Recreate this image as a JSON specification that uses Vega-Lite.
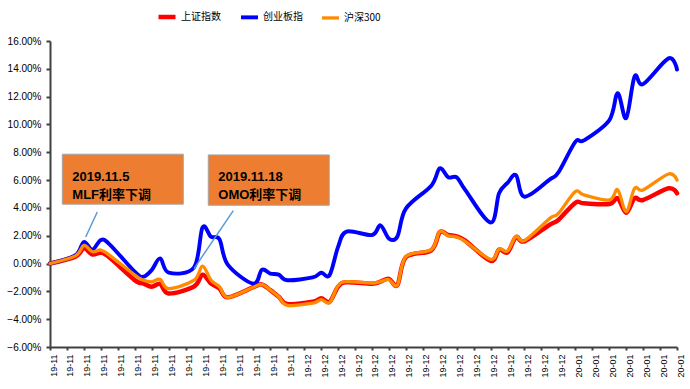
{
  "$schema": "https://vega.github.io/schema/vega-lite/v6.json",
  "width": 627,
  "height": 306,
  "autosize": {"type": "none"},
  "padding": {"left": 50, "top": 41, "right": 13, "bottom": 42},
  "background": "#ffffff",
  "config": {
    "view": {"stroke": null},
    "axis": {"grid": false, "domainColor": "#404040", "domainWidth": 2, "tickColor": "#404040", "tickWidth": 2, "labelColor": "#000000", "labelFont": "Liberation Sans", "title": null}
  },
  "datasets": {
    "idx": [
      {"date": "2019-11-01", "上证指数": 0, "创业板指": 0, "沪深300": 0},
      {"date": "2019-11-04", "上证指数": 0.5, "创业板指": 0.6, "沪深300": 0.55},
      {"date": "2019-11-05", "上证指数": 1.1, "创业板指": 1.55, "沪深300": 1.3},
      {"date": "2019-11-06", "上证指数": 0.65, "创业板指": 1.0, "沪深300": 0.85},
      {"date": "2019-11-07", "上证指数": 0.78, "创业板指": 1.69, "沪深300": 0.97},
      {"date": "2019-11-08", "上证指数": 0.45, "创业板指": 1.4, "沪深300": 0.61},
      {"date": "2019-11-11", "上证指数": -1.19, "创业板指": -0.59, "沪深300": -0.83},
      {"date": "2019-11-12", "上证指数": -1.43, "创业板指": -0.95, "沪深300": -1.19},
      {"date": "2019-11-13", "上证指数": -1.67, "创业板指": -0.47, "沪深300": -1.31},
      {"date": "2019-11-14", "上证指数": -1.47, "创业板指": 0.37, "沪深300": -1.14},
      {"date": "2019-11-15", "上证指数": -2.15, "创业板指": -0.65, "沪深300": -1.8},
      {"date": "2019-11-18", "上证指数": -1.65, "创业板指": -0.27, "沪深300": -1.2},
      {"date": "2019-11-19", "上证指数": -0.8, "创业板指": 2.6, "沪深300": -0.18},
      {"date": "2019-11-20", "上证指数": -1.43, "创业板指": 1.93, "沪深300": -1.19},
      {"date": "2019-11-21", "上证指数": -1.79, "创业板指": 1.74, "沪深300": -1.67},
      {"date": "2019-11-22", "上证指数": -2.43, "创业板指": -0.1, "沪深300": -2.43},
      {"date": "2019-11-25", "上证指数": -1.7, "创业板指": -1.45, "沪深300": -1.7},
      {"date": "2019-11-26", "上证指数": -1.5, "创业板指": -0.45, "沪深300": -1.5},
      {"date": "2019-11-27", "上证指数": -1.91, "创业板指": -0.72, "沪深300": -1.9},
      {"date": "2019-11-28", "上证指数": -2.39, "创业板指": -0.8, "沪深300": -2.39},
      {"date": "2019-11-29", "上证指数": -2.9, "创业板指": -1.2, "沪深300": -3.0},
      {"date": "2019-12-02", "上证指数": -2.75, "创业板指": -1.0, "沪深300": -2.85},
      {"date": "2019-12-03", "上证指数": -2.5, "创业板指": -0.66, "沪深300": -2.6},
      {"date": "2019-12-04", "上证指数": -2.75, "创业板指": -0.83, "沪深300": -2.8},
      {"date": "2019-12-05", "上证指数": -1.67, "创业板指": 1.2, "沪深300": -1.6},
      {"date": "2019-12-06", "上证指数": -1.35, "创业板指": 2.3, "沪深300": -1.3},
      {"date": "2019-12-09", "上证指数": -1.45, "创业板指": 2.05, "沪深300": -1.4},
      {"date": "2019-12-10", "上证指数": -1.3, "创业板指": 2.75, "沪深300": -1.3},
      {"date": "2019-12-11", "上证指数": -1.1, "创业板指": 1.8, "沪深300": -1.15},
      {"date": "2019-12-12", "上证指数": -1.55, "创业板指": 1.95, "沪深300": -1.55},
      {"date": "2019-12-13", "上证指数": 0.45, "创业板指": 3.95, "沪深300": 0.5},
      {"date": "2019-12-16", "上证指数": 0.95, "创业板指": 5.6, "沪深300": 1.0},
      {"date": "2019-12-17", "上证指数": 2.25, "创业板指": 6.85, "沪深300": 2.3},
      {"date": "2019-12-18", "上证指数": 2.05, "创业板指": 6.2, "沪深300": 2.0},
      {"date": "2019-12-19", "上证指数": 1.95, "创业板指": 6.2, "沪深300": 1.9},
      {"date": "2019-12-20", "上证指数": 1.65, "创业板指": 5.3, "沪深300": 1.6},
      {"date": "2019-12-23", "上证指数": 0.2, "创业板指": 2.95, "沪深300": 0.3},
      {"date": "2019-12-24", "上证指数": 1.0, "创业板指": 5.05, "沪深300": 1.05},
      {"date": "2019-12-25", "上证指数": 0.8, "创业板指": 5.8, "沪深300": 0.9},
      {"date": "2019-12-26", "上证指数": 1.9, "创业板指": 6.35, "沪深300": 1.95},
      {"date": "2019-12-27", "上证指数": 1.6, "创业板指": 4.8, "沪深300": 1.65},
      {"date": "2019-12-30", "上证指数": 2.8, "创业板指": 6.05, "沪深300": 3.25},
      {"date": "2019-12-31", "上证指数": 3.13, "创业板指": 6.55, "沪深300": 3.6},
      {"date": "2020-01-02", "上证指数": 4.37, "创业板指": 8.75, "沪深300": 5.17},
      {"date": "2020-01-03", "上证指数": 4.33, "创业板指": 8.85, "沪深300": 4.93},
      {"date": "2020-01-06", "上证指数": 4.28, "创业板指": 10.3, "沪深300": 4.57},
      {"date": "2020-01-07", "上证指数": 4.7, "创业板指": 12.25, "沪深300": 5.3},
      {"date": "2020-01-08", "上证指数": 3.66, "创业板指": 10.45, "沪深300": 3.73},
      {"date": "2020-01-09", "上证指数": 4.69, "创业板指": 13.45, "沪深300": 5.41},
      {"date": "2020-01-10", "上证指数": 4.57, "创业板指": 12.9, "沪深300": 5.29},
      {"date": "2020-01-13", "上证指数": 5.41, "创业板指": 14.75, "沪深300": 6.44},
      {"date": "2020-01-14", "上证指数": 5.05, "创业板指": 13.95, "沪深300": 6.0}
    ],
    "notes": [
      {"label": "2019.11.5\nMLF利率下调", "boxStart": "2019-11-02T10:50:00Z", "boxEnd": "2019-11-16T17:35:00Z", "boxTop": 7.86, "boxBottom": 4.27, "textAt": "2019-11-03T15:10:00Z", "textLevel": 6.22, "pointerFrom": "2019-11-06T13:55:00Z", "pointerFromLevel": 3.71, "pointerTo": "2019-11-05T05:05:00Z", "pointerToLevel": 1.91},
      {"label": "2019.11.18\nOMO利率下调", "boxStart": "2019-11-19T16:20:00Z", "boxEnd": "2019-12-03T23:05:00Z", "boxTop": 7.81, "boxBottom": 4.19, "textAt": "2019-11-20T20:40:00Z", "textLevel": 6.22, "pointerFrom": "2019-11-22T15:10:00Z", "pointerFromLevel": 3.81, "pointerTo": "2019-11-18T00:00:00Z", "pointerToLevel": -0.36}
    ]
  },
  "layer": [
    {
      "data": {"name": "idx"},
      "transform": [{"fold": ["上证指数", "创业板指", "沪深300"], "as": ["series", "value"]}],
      "mark": {"type": "line", "interpolate": "cardinal", "strokeCap": "round", "strokeJoin": "round"},
      "encoding": {
        "x": {
          "field": "date", "type": "temporal",
          "scale": {"type": "utc", "domain": [{"year": 2019, "month": 11, "date": 1, "utc": true}, {"year": 2020, "month": 1, "date": 14, "utc": true}], "nice": false},
          "axis": {
            "title": null, "format": "%y-%m", "labelAngle": -90, "labelFontSize": 9, "tickSize": 3, "labelPadding": 4, "labelOverlap": false, "labelOffset": 3, "labelFlush": false, "labelBound": false, "tickCount": 100,
            "values": [
              {"year": 2019, "month": 11, "date": 1, "utc": true}, {"year": 2019, "month": 11, "date": 3, "utc": true}, {"year": 2019, "month": 11, "date": 5, "utc": true}, {"year": 2019, "month": 11, "date": 7, "utc": true}, {"year": 2019, "month": 11, "date": 9, "utc": true}, {"year": 2019, "month": 11, "date": 11, "utc": true}, {"year": 2019, "month": 11, "date": 13, "utc": true}, {"year": 2019, "month": 11, "date": 15, "utc": true}, {"year": 2019, "month": 11, "date": 17, "utc": true}, {"year": 2019, "month": 11, "date": 19, "utc": true}, {"year": 2019, "month": 11, "date": 21, "utc": true}, {"year": 2019, "month": 11, "date": 23, "utc": true}, {"year": 2019, "month": 11, "date": 25, "utc": true}, {"year": 2019, "month": 11, "date": 27, "utc": true}, {"year": 2019, "month": 11, "date": 29, "utc": true},
              {"year": 2019, "month": 12, "date": 1, "utc": true}, {"year": 2019, "month": 12, "date": 3, "utc": true}, {"year": 2019, "month": 12, "date": 5, "utc": true}, {"year": 2019, "month": 12, "date": 7, "utc": true}, {"year": 2019, "month": 12, "date": 9, "utc": true}, {"year": 2019, "month": 12, "date": 11, "utc": true}, {"year": 2019, "month": 12, "date": 13, "utc": true}, {"year": 2019, "month": 12, "date": 15, "utc": true}, {"year": 2019, "month": 12, "date": 17, "utc": true}, {"year": 2019, "month": 12, "date": 19, "utc": true}, {"year": 2019, "month": 12, "date": 21, "utc": true}, {"year": 2019, "month": 12, "date": 23, "utc": true}, {"year": 2019, "month": 12, "date": 25, "utc": true}, {"year": 2019, "month": 12, "date": 27, "utc": true}, {"year": 2019, "month": 12, "date": 29, "utc": true}, {"year": 2019, "month": 12, "date": 31, "utc": true},
              {"year": 2020, "month": 1, "date": 2, "utc": true}, {"year": 2020, "month": 1, "date": 4, "utc": true}, {"year": 2020, "month": 1, "date": 6, "utc": true}, {"year": 2020, "month": 1, "date": 8, "utc": true}, {"year": 2020, "month": 1, "date": 10, "utc": true}, {"year": 2020, "month": 1, "date": 12, "utc": true}, {"year": 2020, "month": 1, "date": 14, "utc": true}
            ]
          }
        },
        "y": {
          "field": "value", "type": "quantitative",
          "scale": {"domain": [-6, 16], "nice": false, "zero": false},
          "axis": {"title": null, "values": [-6, -4, -2, 0, 2, 4, 6, 8, 10, 12, 14, 16], "tickCount": 100, "labelOverlap": false, "labelExpr": "format(datum.value, '.2f') + '%'", "labelFontSize": 10, "tickSize": 4, "labelPadding": 5}
        },
        "color": {
          "field": "series", "type": "nominal",
          "scale": {"domain": ["上证指数", "创业板指", "沪深300"], "range": ["#FF0000", "#0000FF", "#FF8C00"]},
          "legend": {"orient": "none", "legendX": 106, "legendY": -35, "direction": "horizontal", "title": null, "symbolType": "stroke", "symbolSize": 289, "symbolStrokeWidth": 4, "labelFont": "Noto Sans CJK SC", "labelFontSize": 10, "labelColor": "#000000", "columnPadding": 12, "labelOffset": 3, "padding": 0}
        },
        "strokeWidth": {
          "field": "series", "type": "nominal",
          "scale": {"domain": ["上证指数", "创业板指", "沪深300"], "range": [4.5, 3.3, 3.5]},
          "legend": null
        }
      }
    },
    {
      "data": {"name": "notes"},
      "mark": {"type": "rect", "fill": "#ED7D31", "stroke": "#A6A6A6", "strokeWidth": 1},
      "encoding": {
        "x": {"field": "boxStart", "type": "temporal"},
        "x2": {"field": "boxEnd"},
        "y": {"field": "boxTop", "type": "quantitative"},
        "y2": {"field": "boxBottom"}
      }
    },
    {
      "data": {"name": "notes"},
      "mark": {"type": "text", "align": "left", "baseline": "middle", "lineBreak": "\n", "lineHeight": 17.5, "font": "Liberation Sans, Noto Sans CJK SC", "fontWeight": "bold", "fontSize": 13, "color": "#000000"},
      "encoding": {
        "x": {"field": "textAt", "type": "temporal"},
        "y": {"field": "textLevel", "type": "quantitative"},
        "text": {"field": "label"}
      }
    },
    {
      "data": {"name": "notes"},
      "mark": {"type": "rule", "color": "#5B9BD5", "strokeWidth": 1.5},
      "encoding": {
        "x": {"field": "pointerFrom", "type": "temporal"},
        "x2": {"field": "pointerTo"},
        "y": {"field": "pointerFromLevel", "type": "quantitative"},
        "y2": {"field": "pointerToLevel"}
      }
    }
  ]
}
